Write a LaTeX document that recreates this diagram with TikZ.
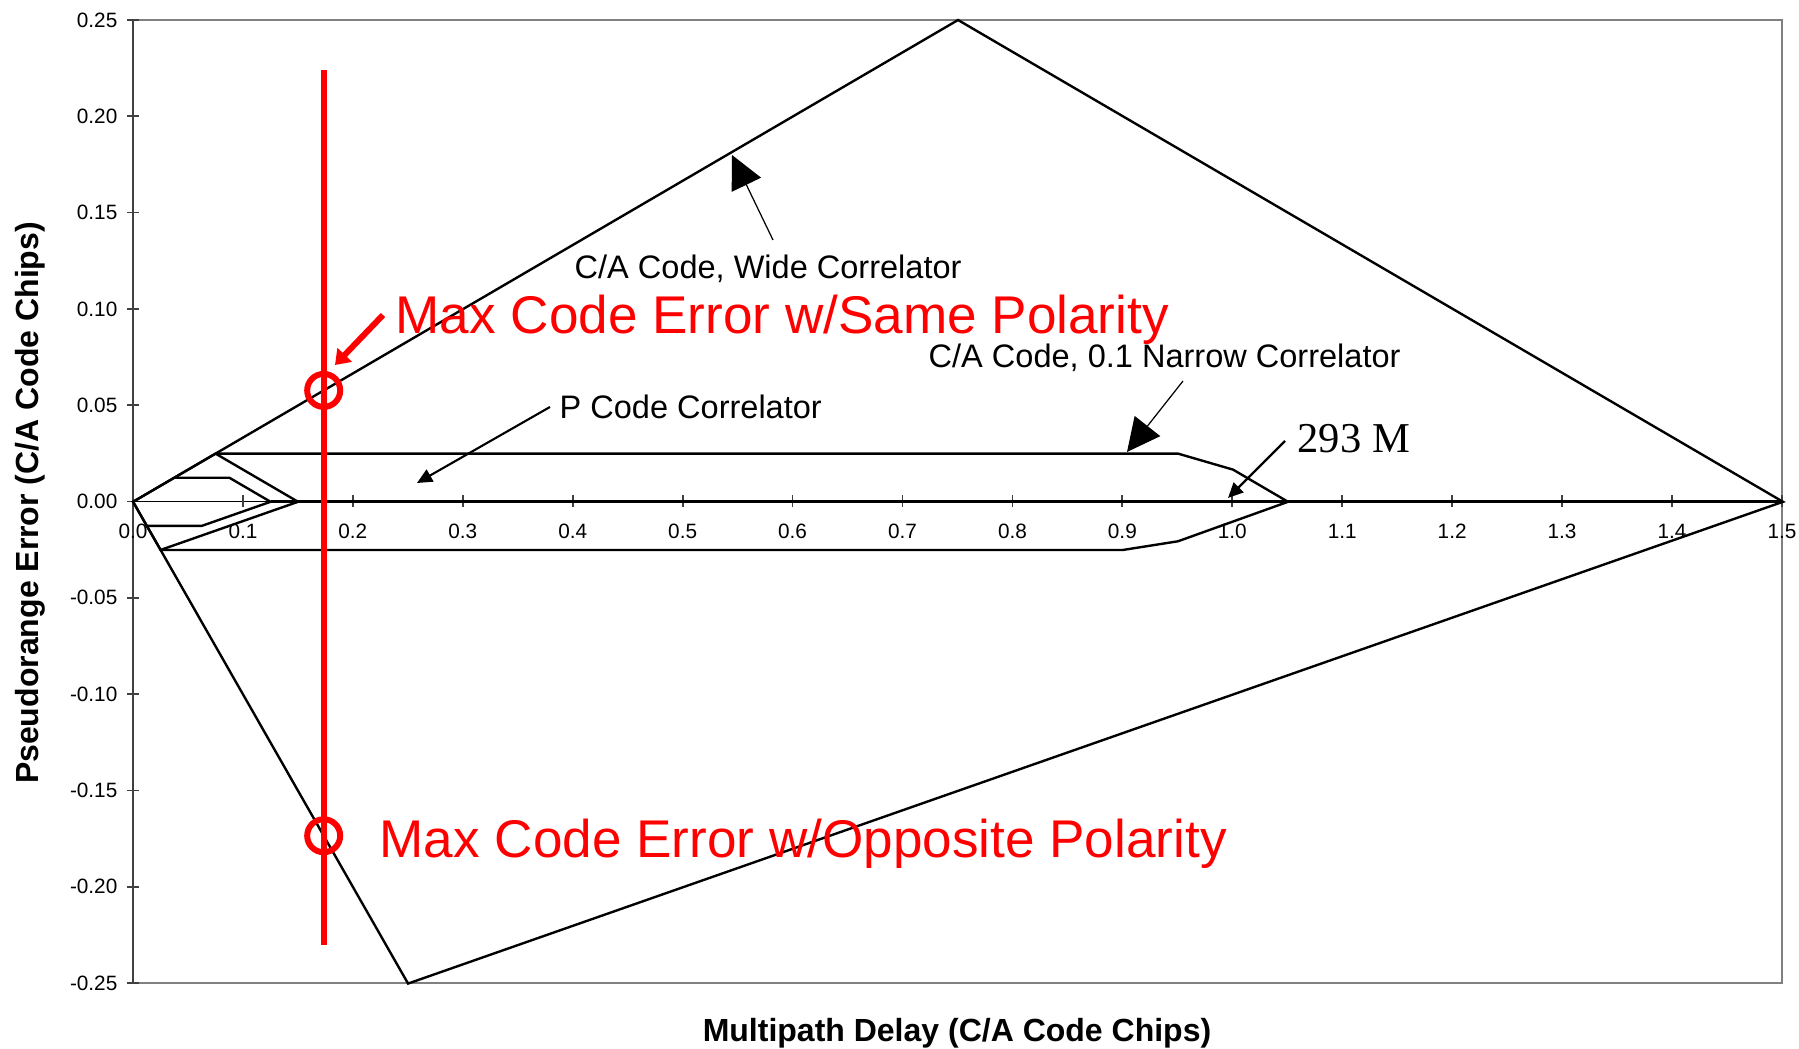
\documentclass[tikz,border=0pt]{standalone}
\usepackage{fontspec}
\setmainfont{Liberation Sans}
\newfontfamily\timesf{Liberation Serif}
\usetikzlibrary{arrows.meta}
\definecolor{framegray}{RGB}{128,128,128}
\definecolor{axisdark}{RGB}{64,64,64}
\begin{document}
\begin{tikzpicture}[x=0.01cm,y=-0.01cm,
  ticklab/.style={font=\fontsize{5.9}{7}\selectfont,inner sep=0pt},
  annot/.style={font=\fontsize{9.25}{11}\selectfont,inner sep=0pt,anchor=base west},
  redlab/.style={font=\fontsize{15.1}{18}\selectfont,text=red,inner sep=0pt,anchor=base west},
  axtitle/.style={font=\bfseries\fontsize{9.1}{11}\selectfont,inner sep=0pt,anchor=base},
  series/.style={line width=0.68pt,line join=miter},
  bigarrow/.style={line width=0.35pt,-{Triangle[length=9.4pt,width=9.2pt]}},
  smallarrow/.style={line width=0.6pt,-{Triangle[length=4.3pt,width=3.9pt]}},
  redarrow/.style={draw=red,line width=1.7pt,-{Triangle[length=4pt,width=5.5pt]}},
  redcirc/.style={draw=red,line width=1.7pt}]
\useasboundingbox (0,0) rectangle (1799,1049);
% frame
\draw[framegray,line width=0.6pt] (133,20) -- (1782,20) -- (1782,983) -- (133,983);
\draw[axisdark,line width=0.6pt] (133,20) -- (133,983);
% y ticks and labels
\foreach \l [count=\j from 0] in {0.25,0.20,0.15,0.10,0.05,0.00,-0.05,-0.10,-0.15,-0.20,-0.25}{
  \draw[axisdark,line width=0.5pt] (127,{20+\j*96.3}) -- (139,{20+\j*96.3});
  \node[ticklab,anchor=east] (yl\j) at (118,{20+\j*96.3}) {\l};
}
% x axis thin line
\draw[black,line width=0.35pt] (133,501.5) -- (1782,501.5);
% x ticks and labels
\foreach \l [count=\i from 0] in {0.0,0.1,0.2,0.3,0.4,0.5,0.6,0.7,0.8,0.9,1.0,1.1,1.2,1.3,1.4,1.5}{
  \draw[axisdark,line width=0.5pt] ({133+\i*109.93},495.5) -- ({133+\i*109.93},507.5);
  \node[ticklab,anchor=base] (xl\i) at ({133+\i*109.93},539) {\l};
}
% data series
\begin{scope}[shift={(1.33cm,-5.015cm)},x=10.993cm,y=19.26cm]
  % wide correlator
  \draw[series] (0,0) -- (0.75,0.25) -- (1.5,0) -- (0.25,-0.25) -- cycle;
  % narrow correlator
  \draw[series] (0,0) -- (0.075,0.025) -- (0.95,0.025) -- (1.0,0.0167) -- (1.05,0)
     -- (0.95,-0.0205) -- (0.9,-0.025) -- (0.025,-0.025) -- cycle;
  % P code correlator
  \draw[series] (0.075,0.025) -- (0.15,0) -- (0.025,-0.025);
  % inner envelope
  \draw[series] (0.0375,0.0125) -- (0.0875,0.0125) -- (0.125,0) -- (0.0625,-0.0125) -- (0.0125,-0.0125);
  % zero line series
  \draw[line width=0.95pt] (0.125,0) -- (1.5,0);
  % red marker line
  \draw[red,line width=1.7pt] (0.1733,0.224) -- (0.1733,-0.2298);
  \coordinate (csame) at (0.1733,0.0578);
  \coordinate (copp) at (0.1733,-0.1733);
\end{scope}
% red circles
\draw[redcirc] (csame) circle[radius=0.165cm];
\draw[redcirc] (copp) circle[radius=0.165cm];
% labels
\node[annot] (wide) at (574,279) {C/A Code, Wide Correlator};
\node[annot] (narrow) at (928,368) {C/A Code, 0.1 Narrow Correlator};
\node[annot] (pcode) at (559,419) {P Code Correlator};
\node[inner sep=0pt,anchor=base west,font=\timesf\fontsize{12.1}{14}\selectfont] (m293) at (1297,453) {293 M};
\node[redlab] (same) at (395,334) {Max Code Error w/Same Polarity};
\node[redlab] (opp) at (379,857) {Max Code Error w/Opposite Polarity};
% axis titles
\node[axtitle] (xtitle) at (957,1041) {Multipath Delay (C/A Code Chips)};
\node[axtitle,rotate=90] (ytitle) at (38,503) {Pseudorange Error (C/A Code Chips)};
% arrow endpoints
\coordinate (wideS) at (773,240);
\coordinate (wideT) at (732,155);
\coordinate (narS) at (1183,381);
\coordinate (narT) at (1127,452);
\coordinate (pS) at (550,407);
\coordinate (pT) at (417,483);
\coordinate (mS) at (1285,441);
\coordinate (mT) at (1228,498);
\coordinate (rS) at (383,315);
\coordinate (rT) at (335,365);
\draw[bigarrow] (wideS) -- (wideT);
\draw[bigarrow] (narS) -- (narT);
\draw[smallarrow] (pS) -- (pT);
\draw[smallarrow,line width=0.7pt] (mS) -- (mT);
\draw[redarrow] (rS) -- (rT);
\end{tikzpicture}
\end{document}
